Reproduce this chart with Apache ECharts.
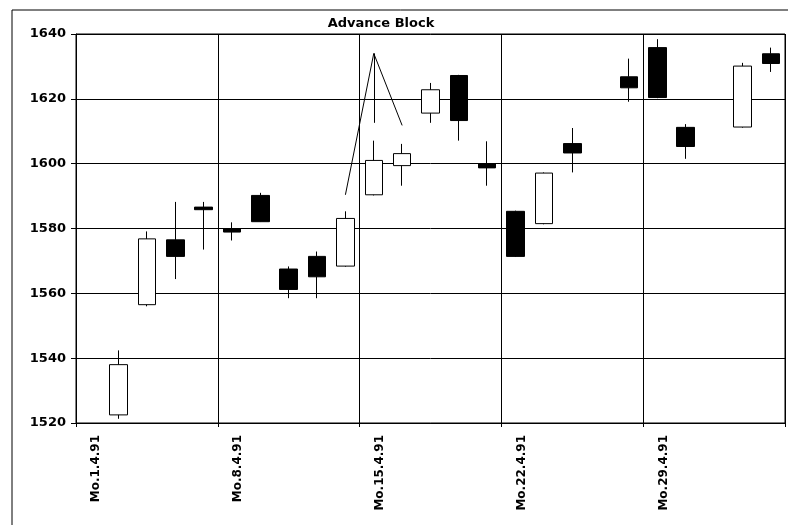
<!DOCTYPE html>
<html>
<head>
<meta charset="utf-8">
<script src="https://cdn.jsdelivr.net/npm/echarts@6/dist/echarts.min.js"></script>
<style>html,body{margin:0;padding:0;background:#fff}#c{width:788px;height:525px}</style>
</head>
<body>
<div id="c"></div>
<script>
const categories = [
  'Mo.1.4.91','Di.2.4.91','Mi.3.4.91','Do.4.4.91','Fr.5.4.91',
  'Mo.8.4.91','Di.9.4.91','Mi.10.4.91','Do.11.4.91','Fr.12.4.91',
  'Mo.15.4.91','Di.16.4.91','Mi.17.4.91','Do.18.4.91','Fr.19.4.91',
  'Mo.22.4.91','Di.23.4.91','Mi.24.4.91','Do.25.4.91','Fr.26.4.91',
  'Mo.29.4.91','Di.30.4.91','Mi.1.5.91','Do.2.5.91','Fr.3.5.91'
];
const opens  = [null,1522.5,1556.5,1576.5,1586.6,1580.0,1590.2,1567.5,1571.4,1568.4,1590.4,1599.4,1615.6,1627.2,1600.0,1585.3,1581.5,1606.2,null,1626.8,1635.8,1611.2,null,1611.3,1633.9];
const closes = [null,1538.0,1576.8,1571.4,1585.8,1578.9,1582.1,1561.2,1565.1,1583.1,1601.0,1603.1,1622.8,1613.3,1598.7,1571.4,1597.1,1603.3,null,1623.4,1620.4,1605.3,null,1630.1,1630.9];
const lows   = [null,1521.3,1556.0,1564.4,1573.5,1576.3,1582.0,1558.5,1558.5,1568.2,1590.2,1593.2,1612.6,1607.1,1593.2,1571.2,1581.3,1597.3,null,1619.1,1620.2,1601.5,null,1611.1,1628.3];
const highs  = [null,1542.4,1579.1,1588.2,1588.2,1581.9,1591.0,1568.3,1572.9,1585.3,1607.1,1606.1,1624.9,1627.4,1606.9,1585.5,1597.3,1611.0,null,1632.4,1638.4,1612.2,null,1631.1,1635.8];

const patternTitle = 'Advance Block';
const patternApex = ['Mo.15.4.91', 1634.0];
const patternLegs = [['Fr.12.4.91', 1590.4], ['Di.16.4.91', 1611.8], ['Mo.15.4.91', 1612.6]];

const yMin = 1520, yMax = 1640, yStep = 20;

const candleData = categories.map((c, i) =>
  opens[i] == null ? '-' : [opens[i], closes[i], lows[i], highs[i]]);

const chart = echarts.init(document.getElementById('c'), null, {renderer: 'canvas'});
chart.setOption({
  backgroundColor: '#fff',
  animation: false,
  grid: {left: 76, right: 3, top: 34, bottom: 102, show: true, borderColor: '#000', borderWidth: 1},
  graphic: [
    {type: 'rect', z: -10, shape: {x: 12, y: 10, width: 900, height: 700},
     style: {fill: 'none', stroke: '#000', lineWidth: 1}},
    {type: 'text', z: 10, x: 381, y: 24,
     style: {text: patternTitle, fill: '#000', font: 'bold 13px "DejaVu Sans"', align: 'center', verticalAlign: 'middle'}}
  ],
  xAxis: {
    type: 'category',
    data: categories,
    boundaryGap: true,
    axisLine: {lineStyle: {color: '#000', width: 1}},
    axisTick: {show: true, interval: 4, length: 4, lineStyle: {color: '#000'}},
    splitLine: {show: true, interval: 4, lineStyle: {color: '#000', width: 1}},
    axisLabel: {
      interval: 4, rotate: 90, margin: 12,
      color: '#000', fontFamily: 'DejaVu Sans', fontWeight: 'bold', fontSize: 12,
      verticalAlign: 'top', lineHeight: 12
    }
  },
  yAxis: {
    type: 'value', min: yMin, max: yMax, interval: yStep,
    axisLine: {show: true, lineStyle: {color: '#000', width: 1}},
    axisTick: {show: true, length: 5, lineStyle: {color: '#000'}},
    splitLine: {show: true, lineStyle: {color: '#000', width: 1}},
    axisLabel: {margin: 10, color: '#000', fontFamily: 'DejaVu Sans', fontWeight: 'bold', fontSize: 13,
      formatter: v => String(v)}
  },
  series: [{
    type: 'candlestick',
    data: candleData,
    barWidth: 18,
    itemStyle: {color: '#fff', color0: '#000', borderColor: '#000', borderColor0: '#000', borderWidth: 1},
    markLine: {
      silent: true,
      symbol: ['none', 'none'],
      label: {show: false},
      lineStyle: {color: '#000', width: 1, type: 'solid'},
      data: patternLegs.map(p => [{coord: patternApex}, {coord: p}])
    }
  }]
});
</script>
</body>
</html>
